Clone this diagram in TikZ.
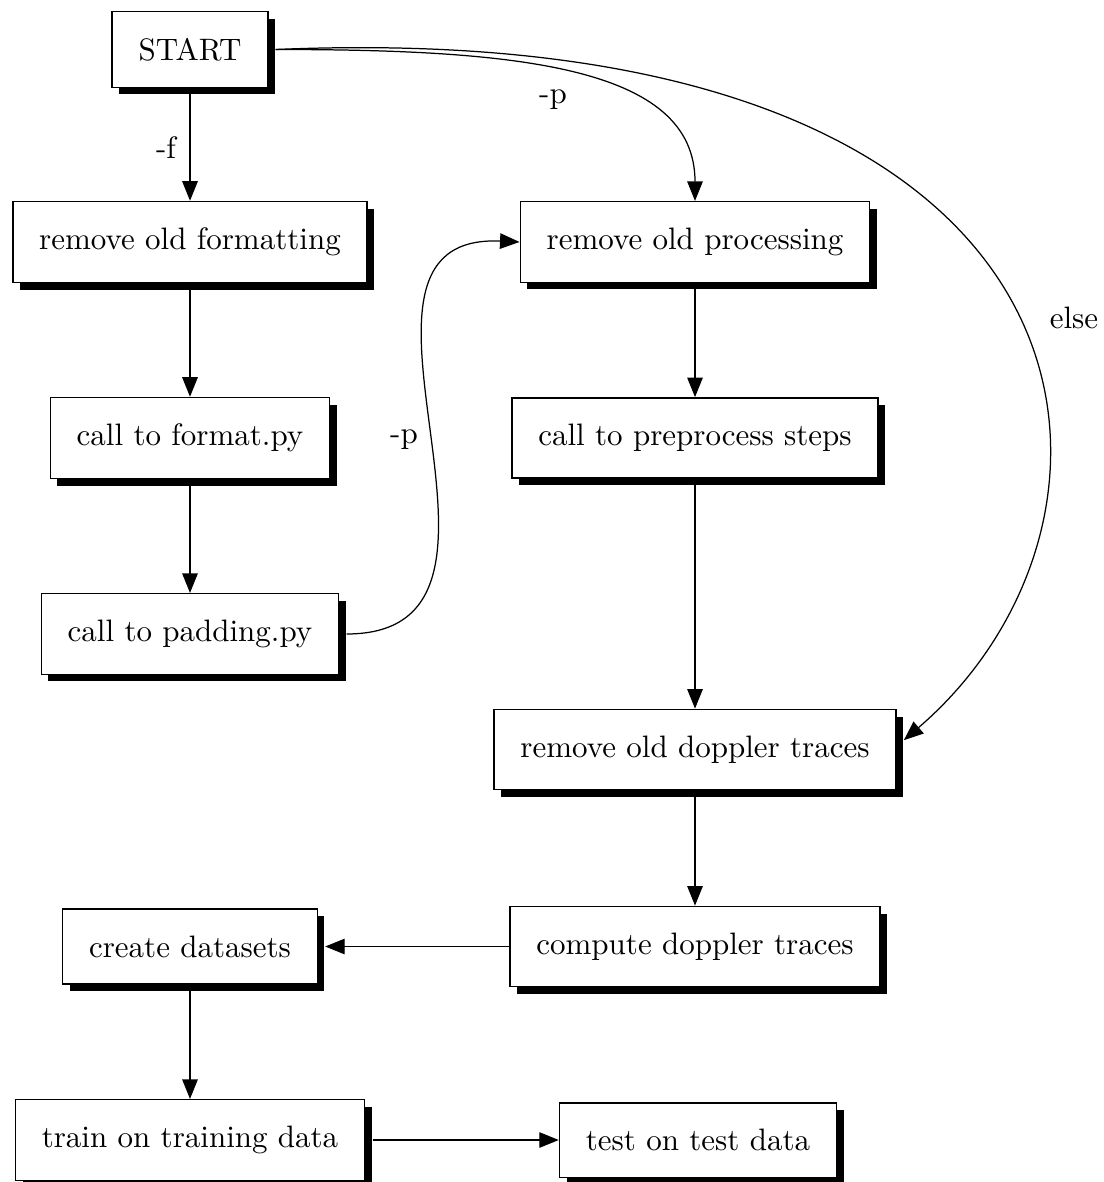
\documentclass[tikz,border=0pt]{standalone}
\usetikzlibrary{arrows.meta,shadows}
\begin{document}
\begin{tikzpicture}[x=0.32258pt, y=-0.32258pt,
  box/.style={draw, fill=white, inner sep=8.5pt, line width=0.5pt,
    drop shadow={shadow xshift=2.3pt, shadow yshift=-2.3pt, fill=black, opacity=1}},
  conn/.style={-{Triangle[length=6.3pt,width=5pt]}, line width=0.4pt},
  lbl/.style={inner sep=0pt}]
\useasboundingbox (0,0) rectangle (1104,1182);
% nodes
\node[box] (start) at (190,49.5) {START};
\node[box] (fmt)   at (190,242) {remove old formatting};
\node[box] (proc)  at (695,242) {remove old processing};
\node[box] (fpy)   at (190,438) {call to format.py};
\node[box] (pre)   at (695,438) {call to preprocess steps};
\node[box] (pad)   at (190,634) {call to padding.py};
\node[box] (dop)   at (695,749.5) {remove old doppler traces};
\node[box] (comp)  at (695,946.5) {compute doppler traces};
\node[box] (cd)    at (190,946.5) {create datasets};
\node[box] (train) at (190,1140) {train on training data};
\node[box] (test)  at (698,1140) {test on test data};
% labels
\node[lbl] (lf)    at (166,148) {-f};
\node[lbl] (lp1)   at (553,100) {-p};
\node[lbl] (lp2)   at (404,440) {-p};
\node[lbl] (lelse) at (1074,318) {else};
% straight connectors
\draw[conn] (start) -- (fmt);
\draw[conn] (fmt) -- (fpy);
\draw[conn] (fpy) -- (pad);
\draw[conn] (proc) -- (pre);
\draw[conn] (pre) -- (dop);
\draw[conn] (dop) -- (comp);
\draw[conn] (comp) -- ([xshift=2.3pt]cd.east);
\draw[conn] (cd) -- (train);
\draw[conn] ([xshift=2.3pt]train.east) -- (test);
% curved connectors
\draw[conn] ([xshift=2.3pt]start.east) .. controls +(240,0) and +(0,-135) .. (proc.north);
\draw[conn] ([xshift=2.3pt]start.east) .. controls +(850,-36) and +(262,-225) .. ([xshift=2.3pt,yshift=3pt]dop.east);
\draw[conn] ([xshift=2.3pt]pad.east) .. controls +(215,0) and +(-215,-10) .. (proc.west);
\end{tikzpicture}
\end{document}
